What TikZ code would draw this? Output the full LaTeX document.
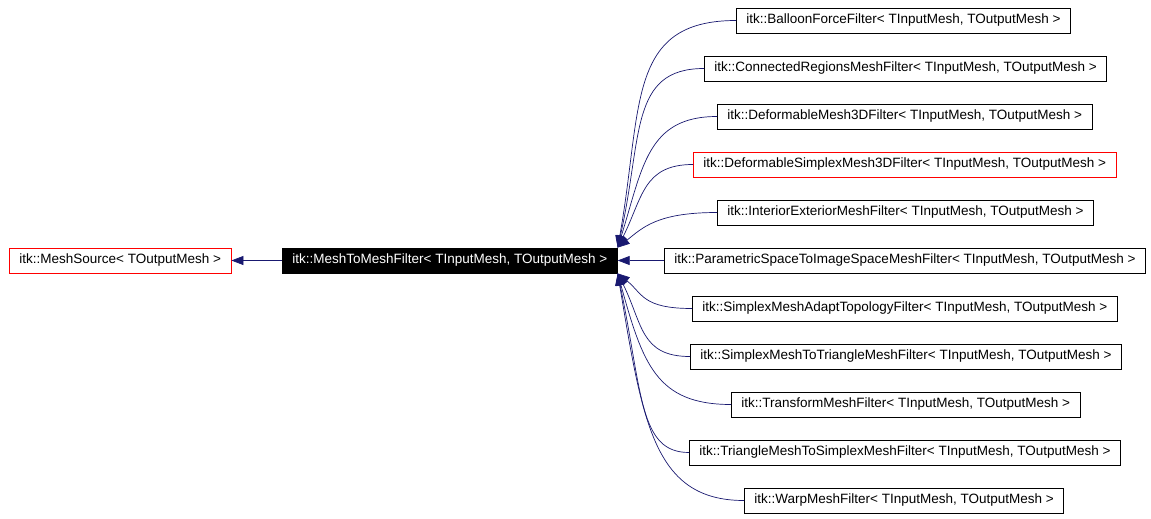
\documentclass[tikz,border=0pt]{standalone}
\usepackage{fontspec}
\setmainfont{Liberation Sans}
\usepackage{tikz}
\usetikzlibrary{arrows.meta}

\definecolor{edgeblue}{RGB}{25,25,112}

\begin{document}
\begin{tikzpicture}[
  x=1pt, y=-1pt,
  cls/.style={draw, line width=0.8pt, anchor=west, inner xsep=10pt, minimum height=25pt,
    font=\fontsize{13.5}{15}\selectfont},
  redcls/.style={cls, draw=red},
  cur/.style={cls, fill=black, text=white},
  inh/.style={edgeblue, line width=0.7pt, -{Triangle[length=12pt,width=9pt]}}
]
  \useasboundingbox (0,0) rectangle (1151,519);

  \node[redcls] (source) at (9,260.5) {itk::MeshSource< TOutputMesh >};
  \node[cur] (filter) at (282,260.5) {itk::MeshToMeshFilter< TInputMesh, TOutputMesh >};

  \node[cls] (balloon) at (736,20.5) {itk::BalloonForceFilter< TInputMesh, TOutputMesh >};
  \node[cls] (connected) at (704,68.5) {itk::ConnectedRegionsMeshFilter< TInputMesh, TOutputMesh >};
  \node[cls] (deform) at (717,116.5) {itk::DeformableMesh3DFilter< TInputMesh, TOutputMesh >};
  \node[redcls] (simplexdeform) at (693,164.5) {itk::DeformableSimplexMesh3DFilter< TInputMesh, TOutputMesh >};
  \node[cls] (intext) at (717,212.5) {itk::InteriorExteriorMeshFilter< TInputMesh, TOutputMesh >};
  \node[cls] (param) at (664,260.5) {itk::ParametricSpaceToImageSpaceMeshFilter< TInputMesh, TOutputMesh >};
  \node[cls] (adapt) at (692,308.5) {itk::SimplexMeshAdaptTopologyFilter< TInputMesh, TOutputMesh >};
  \node[cls] (simplextotri) at (690,356.5) {itk::SimplexMeshToTriangleMeshFilter< TInputMesh, TOutputMesh >};
  \node[cls] (transform) at (731,404.5) {itk::TransformMeshFilter< TInputMesh, TOutputMesh >};
  \node[cls] (tritosimplex) at (689,452.5) {itk::TriangleMeshToSimplexMeshFilter< TInputMesh, TOutputMesh >};
  \node[cls] (warp) at (744,500.5) {itk::WarpMeshFilter< TInputMesh, TOutputMesh >};

  \draw[inh] (filter) -- (source);

  \draw[inh] (balloon.west) .. controls +(-110,0) and +(25,-140) .. (filter.north east);
  \draw[inh] (connected.west) .. controls +(-75,0) and +(25,-110) .. (filter.north east);
  \draw[inh] (deform.west) .. controls +(-70,0) and +(25,-80) .. (filter.north east);
  \draw[inh] (simplexdeform.west) .. controls +(-50,0) and +(25,-50) .. (filter.north east);
  \draw[inh] (intext.west) .. controls +(-60,0) and +(25,-20) .. (filter.north east);
  \draw[inh] (param) -- (filter);
  \draw[inh] (adapt.west) .. controls +(-50,0) and +(25,20) .. (filter.south east);
  \draw[inh] (simplextotri.west) .. controls +(-50,0) and +(25,50) .. (filter.south east);
  \draw[inh] (transform.west) .. controls +(-75,0) and +(25,90) .. (filter.south east);
  \draw[inh] (tritosimplex.west) .. controls +(-50,0) and +(25,120) .. (filter.south east);
  \draw[inh] (warp.west) .. controls +(-90,0) and +(25,150) .. (filter.south east);
\end{tikzpicture}
\end{document}
